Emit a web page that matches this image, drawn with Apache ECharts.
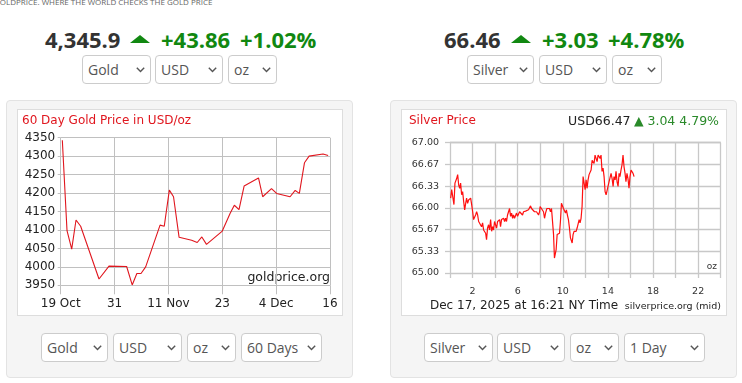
<!DOCTYPE html>
<html><head><meta charset="utf-8">
<script src="https://cdn.jsdelivr.net/npm/echarts@6/dist/echarts.min.js"></script>
<style>
body{margin:0;width:742px;height:383px;overflow:hidden;background:#fff;font-family:'Open Sans',sans-serif;position:relative}
.tag{position:absolute;top:-4px;left:-6px;font:8px 'Open Sans';color:#666;white-space:nowrap}
.big{position:absolute;font:bold 22px/22px 'Open Sans';white-space:nowrap;color:#333}
.grn{color:#118811}
.tri{position:absolute;width:0;height:0;border-left:10px solid transparent;border-right:10px solid transparent;border-bottom:8.5px solid #118811}
.sel{position:absolute;height:29px;border:1px solid #ccc;border-radius:4px;background:#fff;box-sizing:border-box}
.sel span{position:absolute;left:5px;top:0;line-height:27px;font-size:14px;color:#555}
.sel svg{position:absolute;right:5px;top:11px}
.panel{position:absolute;background:#f5f5f5;border:1px solid #e3e3e3;border-radius:4px;box-sizing:border-box}
.inner{position:absolute;background:#fff;border:1px solid #ddd;box-sizing:border-box}
.chart{position:absolute}
</style></head>
<body>
<div class="tag">GOLDPRICE. WHERE THE WORLD CHECKS THE GOLD PRICE</div>

<div class="big" style="left:45px;top:28px">4,345.9</div>
<div class="tri" style="left:130px;top:35px"></div>
<div class="big grn" style="left:161px;top:28px">+43.86</div>
<div class="big grn" style="left:240px;top:28px">+1.02%</div>

<div class="big" style="left:444px;top:28px">66.46</div>
<div class="tri" style="left:511px;top:35px"></div>
<div class="big grn" style="left:542px;top:28px">+3.03</div>
<div class="big grn" style="left:608px;top:28px">+4.78%</div>

<div class="panel" style="left:6px;top:100px;width:347px;height:278px"></div>
<div class="inner" style="left:17px;top:109px;width:326px;height:207px"></div>
<div class="panel" style="left:390px;top:100px;width:347px;height:278px"></div>
<div class="inner" style="left:401px;top:109px;width:326px;height:207px"></div>

<div id="sels"></div>

<div id="gold" class="chart" style="left:17px;top:110px;width:326px;height:206px"></div>
<div id="silver" class="chart" style="left:401px;top:110px;width:326px;height:206px"></div>

<script>
// ---- Gold: 60 day (days after 19 Oct) ----
const goldDays = [0.35,1.36,2.37,3.3,4.3,8.25,10.4,14.2,15.4,16.4,17.3,18.3,21.4,22.3,23.4,24.3,25.5,28.2,29.4,30.4,31.4,34.8,36.5,37.4,38.4,39.5,42.6,43.5,45.4,46.5,49.4,50.5,51.4,52.5,53.5,56.5,57.6];
const goldPrices = [4343,4098,4048,4127,4110,3967,4002,4001,3951,3982,3982,4000,4113,4110,4208,4190,4080,4072,4066,4081,4061,4097,4145,4167,4155,4219,4241,4190,4212,4199,4190,4207,4199,4282,4300,4306,4302];
const goldXLabels = ['19 Oct','31','11 Nov','23','4 Dec','16'];

// ---- Silver: 1 day (hours, NY time) ----
const silverHours = [0.06,0.15,0.24,0.35,0.44,0.59,0.68,0.77,0.86,0.94,1.03,1.12,1.21,1.30,1.39,1.47,1.56,1.65,1.74,1.83,1.92,2.01,2.09,2.18,2.27,2.36,2.45,2.54,2.63,2.71,2.80,2.89,2.98,3.07,3.16,3.24,3.33,3.42,3.51,3.60,3.69,3.78,3.86,3.95,4.04,4.13,4.22,4.31,4.40,4.48,4.57,4.66,4.75,4.84,4.93,5.01,5.10,5.19,5.28,5.37,5.46,5.55,5.63,5.72,5.81,5.90,5.99,6.08,6.17,6.25,6.34,6.43,6.52,6.61,6.70,6.78,6.87,6.96,7.05,7.14,7.23,7.32,7.40,7.49,7.58,7.67,7.76,7.85,7.94,
7.99,8.14,8.29,8.38,8.47,8.59,8.70,8.82,8.91,9.00,9.09,9.18,9.26,9.32,9.41,9.50,9.62,9.71,9.79,9.88,9.97,10.06,10.15,10.24,10.32,10.41,10.50,10.59,10.68,10.77,10.83,10.91,11.00,11.09,11.18,11.27,11.36,11.45,11.53,11.62,11.71,11.80,11.89,11.98,12.07,12.15,12.24,12.33,12.42,12.51,12.60,12.69,12.77,12.86,12.95,13.04,13.13,13.22,13.31,13.39,13.48,13.57,13.66,13.75,13.84,13.93,14.01,14.10,14.19,14.28,14.37,14.46,14.54,14.64,14.72,14.81,14.90,14.99,15.07,15.16,15.25,15.34,15.43,15.52,15.60,15.69,15.78,15.87,15.96,16.05,16.14,16.23,16.32];
const silverPrices = [66.15,66.28,66.30,66.05,66.38,66.45,66.51,66.35,66.30,66.38,66.20,66.25,66.10,65.97,66.07,66.15,66.07,66.12,66.10,66.15,66.05,65.94,65.82,65.79,65.89,65.94,65.89,65.79,65.82,65.77,65.71,65.77,65.66,65.69,65.61,65.51,65.69,65.74,65.66,65.82,65.64,65.71,65.66,65.79,65.74,65.69,65.79,65.77,65.82,65.71,65.82,65.79,65.84,65.79,65.84,65.79,65.89,65.94,65.99,65.87,65.92,65.84,65.89,65.84,65.87,65.92,65.87,65.89,65.94,65.92,65.94,65.89,65.94,65.93,65.95,65.94,65.98,65.97,65.99,66.03,65.99,66.02,65.97,65.94,65.92,65.94,65.91,65.89,65.94,
66.02,65.99,65.94,65.84,65.92,65.99,65.97,65.99,65.94,65.99,66.02,65.59,65.23,65.20,65.36,65.59,65.59,65.61,65.79,66.07,66.10,65.99,66.02,65.92,65.97,65.89,65.82,65.69,65.54,65.51,65.46,65.59,65.64,65.66,65.64,65.69,65.66,65.82,65.77,65.84,66.02,66.48,66.51,66.28,66.43,66.30,66.43,66.51,66.51,66.58,66.73,66.76,66.68,66.81,66.79,66.71,66.81,66.84,66.76,66.81,66.56,66.61,66.48,66.25,66.20,66.22,66.33,66.40,66.38,66.53,66.45,66.33,66.48,66.43,66.56,66.40,66.33,66.53,66.48,66.58,66.66,66.81,66.63,66.53,66.40,66.53,66.45,66.30,66.48,66.58,66.56,66.53,66.48];
const silverXLabels = [2,6,10,14,18,22];

// ---- selects ----
const topSelGold = [['Gold',82,151],['USD',155,223],['oz',228,277]];
const topSelSilver = [['Silver',467,534],['USD',539,607],['oz',612,662]];
const botSelGold = [['Gold',41,108],['USD',113,182],['oz',187,236],['60 Days',241,322]];
const botSelSilver = [['Silver',424,493],['USD',497,565],['oz',570,619],['1 Day',624,705]];
function addSels(list, top){
  const host=document.getElementById('sels');
  list.forEach(([t,l,r])=>{
    const d=document.createElement('div');d.className='sel';
    d.style.left=l+'px';d.style.top=top+'px';d.style.width=(r-l)+'px';
    d.innerHTML='<span>'+t+'</span><svg width="9" height="6" viewBox="0 0 9 6"><polyline points="0.8,0.8 4.5,4.6 8.2,0.8" fill="none" stroke="#555" stroke-width="1.4"/></svg>';
    host.appendChild(d);
  });
}
addSels(topSelGold,55);addSels(topSelSilver,55);addSels(botSelGold,333);addSels(botSelSilver,333);

const F='DejaVu Sans';
const gold = echarts.init(document.getElementById('gold'),null,{renderer:'canvas'});
gold.setOption({
  animation:false,
  grid:{left:43.7,top:27.7,width:269.3,height:147.6},
  xAxis:{type:'value',min:0,max:58,interval:11.6,
    axisLine:{show:false},
    axisTick:{show:true,length:9,lineStyle:{color:'#c0c0c0'}},
    splitLine:{show:true,lineStyle:{color:'#c0c0c0',width:1}},
    axisLabel:{margin:13,fontFamily:F,fontSize:12,color:'#222',
      formatter:v=>goldXLabels[Math.round(v/11.6)]||''}},
  yAxis:{type:'value',min:3950,max:4350,interval:50,
    axisLine:{show:false},
    axisTick:{show:true,length:3,lineStyle:{color:'#c0c0c0'}},
    splitLine:{show:true,lineStyle:{color:'#c0c0c0',width:1}},
    axisLabel:{margin:5.5,fontFamily:F,fontSize:12,color:'#222',formatter:v=>String(v)}},
  graphic:[
    {type:'text',left:5,top:5,style:{text:'60 Day Gold Price in USD/oz',fill:'#e0161e',font:'12px "DejaVu Sans"'}},
    {type:'text',right:13,top:161,style:{text:'goldprice.org',fill:'#222',font:'12.5px "DejaVu Sans"'}}
  ],
  series:[{type:'line',data:goldDays.map((d,i)=>[d,goldPrices[i]]),showSymbol:false,
    lineStyle:{color:'#e0161e',width:1.1}}]
});

const silver = echarts.init(document.getElementById('silver'),null,{renderer:'canvas'});
silver.setOption({
  animation:false,
  grid:{left:49,top:32.7,width:270.7,height:130.3},
  xAxis:{type:'value',min:0,max:24,interval:2,
    axisLine:{show:false},
    axisTick:{show:true,length:5,lineStyle:{color:'#c8c8c8',width:1.3}},
    splitLine:{show:true,lineStyle:{color:'#c8c8c8',width:1.3}},
    axisLabel:{margin:14,fontFamily:F,fontSize:9.5,color:'#333',
      formatter:v=>silverXLabels.includes(v)?String(v):''}},
  yAxis:{type:'value',min:65,max:67,interval:1/3,
    axisLine:{show:false},
    axisTick:{show:true,length:5,lineStyle:{color:'#c8c8c8',width:1.3}},
    splitLine:{show:true,lineStyle:{color:'#c8c8c8',width:1.3}},
    axisLabel:{margin:11,fontFamily:F,fontSize:9.5,color:'#333',formatter:v=>v.toFixed(2)}},
  graphic:[
    {type:'text',left:8,top:5,style:{text:'Silver Price',fill:'#e0161e',font:'12px "DejaVu Sans"'}},
    {type:'text',right:8,top:5,style:{text:'{k|USD66.47} {g|▲ 3.04 4.79%}',
      rich:{k:{fill:'#222',font:'12.5px "DejaVu Sans"'},g:{fill:'#2a8a2a',font:'12.5px "DejaVu Sans"'}}}},
    {type:'text',right:10,top:152,style:{text:'oz',fill:'#333',font:'9px "DejaVu Sans"'}},
    {type:'text',left:29,top:190,style:{text:'Dec 17, 2025 at 16:21 NY Time',fill:'#222',font:'12px "DejaVu Sans"'}},
    {type:'text',right:6,top:192,style:{text:'silverprice.org (mid)',fill:'#222',font:'9.5px "DejaVu Sans"'}}
  ],
  series:[{type:'line',data:silverHours.map((h,i)=>[h,silverPrices[i]]),showSymbol:false,
    lineStyle:{color:'#ff1010',width:1.2}}]
});
</script>
</body></html>
